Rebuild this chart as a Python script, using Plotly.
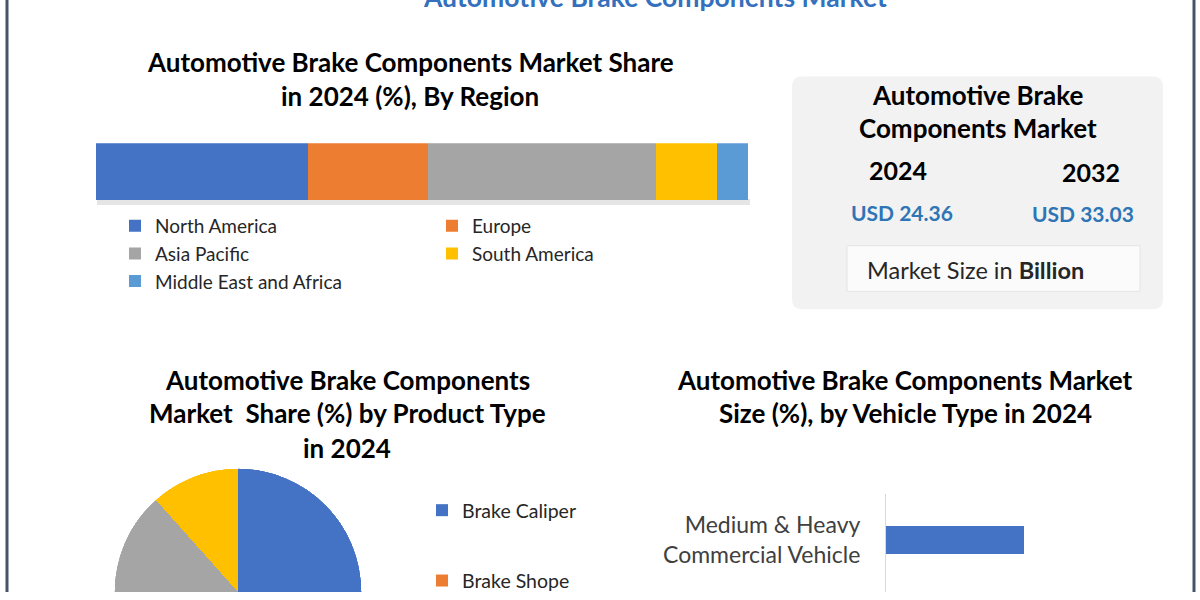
import plotly.graph_objects as go

# ---------------- data ----------------
regions = ["North America", "Europe", "Asia Pacific", "South America", "Middle East and Africa"]
region_share = [32.5, 18.4, 35.0, 9.4, 4.7]
region_colors = ["#4472C4", "#ED7D31", "#A5A5A5", "#FFC000", "#5B9BD5"]
region_legend = ["legend", "legend2", "legend", "legend2", "legend"]

products = ["Brake Caliper", "Brake Shope", "Brake Pad", "Brake Disc"]
product_share = [25.3, 32.1, 31.0, 11.6]
product_colors = ["#4472C4", "#ED7D31", "#A5A5A5", "#FFC000"]
product_in_view = [True, True, False, False]   # legend rows visible above the crop

vehicles = ["Medium & Heavy Commercial Vehicle", "Light Commercial Vehicle", "Passenger Car"]
vehicle_tick_labels = ["Medium &amp; Heavy<br>Commercial Vehicle", "Light Commercial<br>Vehicle", "Passenger Car"]
vehicle_share = [25.2, 28.3, 46.5]

market_years = ["2024", "2032"]
market_values = ["USD 24.36", "USD 33.03"]

# ---------------- layout helpers ----------------
W, H = 1200, 600
K = 1.008  # small vertical compensation
def px(x):
    return x / W
def py(y):
    return max(0.0, 1 - y * K / H)

FONT = "Lato"
fig = go.Figure()

# stacked region bar
for name, val, col, lg in zip(regions, region_share, region_colors, region_legend):
    fig.add_trace(go.Bar(
        x=[val], y=["share"], orientation="h", name=name,
        marker=dict(color=col, line=dict(width=0)), width=1,
        legend=lg, xaxis="x", yaxis="y", hoverinfo="name+x",
    ))

# pie (drawn as full-circle barpolar so the page crop can cut it)
start = 0.0
for i, (name, val, col, vis) in enumerate(zip(products, product_share, product_colors, product_in_view)):
    span = val / sum(product_share) * 360.0
    fig.add_trace(go.Barpolar(
        r=[1], theta=[start + span / 2], width=[span], name=name,
        marker=dict(color=col, line=dict(width=0)),
        legend="legend3", legendgroup=f"p{i}", showlegend=vis, subplot="polar",
    ))
    start += span

# vehicle bar
fig.add_trace(go.Bar(
    x=vehicle_share, y=vehicles, orientation="h",
    marker=dict(color="#4472C4", line=dict(width=0)), width=0.32,
    showlegend=False, xaxis="x2", yaxis="y2",
))

shapes = []
# outer border
shapes.append(dict(type="line", xref="paper", yref="paper", x0=px(7), x1=px(7), y0=0, y1=1,
                   line=dict(color="#44546A", width=3)))
shapes.append(dict(type="line", xref="paper", yref="paper", x0=px(1194), x1=px(1194), y0=0, y1=1,
                   line=dict(color="#44546A", width=3)))
# shadow under region bar
shapes.append(dict(type="rect", xref="paper", yref="paper", x0=px(97), x1=px(750), y0=py(206), y1=py(200),
                   fillcolor="rgba(0,0,0,0.10)", line=dict(width=0), layer="below"))
# card (rounded)
x0, x1, y0, y1, r = 792, 1163, 77, 311, 10
path = (f"M {px(x0+r)},{py(y0)} L {px(x1-r)},{py(y0)} Q {px(x1)},{py(y0)} {px(x1)},{py(y0+r)} "
        f"L {px(x1)},{py(y1-r)} Q {px(x1)},{py(y1)} {px(x1-r)},{py(y1)} "
        f"L {px(x0+r)},{py(y1)} Q {px(x0)},{py(y1)} {px(x0)},{py(y1-r)} "
        f"L {px(x0)},{py(y0+r)} Q {px(x0)},{py(y0)} {px(x0+r)},{py(y0)} Z")
shapes.append(dict(type="path", xref="paper", yref="paper", path=path,
                   fillcolor="#F2F2F2", line=dict(width=0), layer="below"))
shapes.append(dict(type="rect", xref="paper", yref="paper", x0=px(847), x1=px(1140), y0=py(293), y1=py(247),
                   fillcolor="#FBFBFB", line=dict(color="#E4E4E4", width=1), layer="below"))

ann = []
def text(x, y, s, size, color="#000000", bold=False, xanchor="center", yanchor="middle"):
    ann.append(dict(x=px(x), y=1 - y * K / H, xref="paper", yref="paper", text=(f"<b>{s}</b>" if bold else s),
                    showarrow=False, xanchor=xanchor, yanchor=yanchor,
                    font=dict(family=FONT, size=size, color=color)))

# main title (cut off at top)
text(655, -3, "Automotive Brake Components Market", 26.5, color="#3470BD", bold=True)
# region title
text(410, 62, "Automotive Brake Components Market Share", 26, bold=True)
text(410, 97, "in 2024 (%), By Region", 26, bold=True)
# card
text(978, 96, "Automotive Brake", 26, bold=True)
text(978, 129, "Components Market", 26, bold=True)
text(898, 171, market_years[0], 25, bold=True)
text(1091, 173, market_years[1], 25, bold=True)
text(902, 214, market_values[0], 21, color="#2E75B6", bold=True)
text(1083, 215, market_values[1], 21, color="#2E75B6", bold=True)
text(975, 271, "Market Size in <b>Billion</b>", 23.5, color="#262626")
# pie title
text(347, 382, "Automotive Brake Components", 26, bold=True)
text(347, 415, "Market&nbsp; Share (%) by Product Type", 26, bold=True)
text(347, 450, "in 2024", 26, bold=True)
# vehicle title
text(905, 382, "Automotive Brake Components Market", 26, bold=True)
text(905, 415, "Size (%), by Vehicle Type in 2024", 26, bold=True)

top_hbar = 497 * K
leg_font = dict(family=FONT, size=19, color="#262626")
fig.update_layout(
    width=W, height=H,
    margin=dict(l=0, r=0, t=0, b=0),
    paper_bgcolor="white", plot_bgcolor="rgba(0,0,0,0)",
    barmode="stack", bargap=0,
    xaxis=dict(domain=[px(96), px(748)], range=[0, 100], visible=False, fixedrange=True),
    yaxis=dict(domain=[py(201), py(144)], range=[-0.5, 0.5], visible=False, fixedrange=True),
    xaxis2=dict(domain=[px(886), px(1160)], range=[0, 50], visible=False, anchor="y2"),
    yaxis2=dict(domain=[0, py(497)], anchor="x2",
                range=[-0.517 + (H - top_hbar) / 90, -0.517],
                tickmode="array", tickvals=vehicles, ticktext=vehicle_tick_labels,
                showline=True, linecolor="#D9D9D9", linewidth=1, ticks="", showgrid=False,
                ticklabelstandoff=20,
                tickfont=dict(family=FONT, size=23, color="#404040")),
    polar=dict(domain=dict(x=[px(113), px(363)], y=[0, py(471)]),
               sector=[0, 180], hole=0, bgcolor="rgba(0,0,0,0)",
               angularaxis=dict(visible=False, direction="clockwise", rotation=90),
               radialaxis=dict(visible=False, range=[0, 1])),
    legend=dict(x=px(115), y=py(208), xanchor="left", yanchor="top", traceorder="normal",
                font=leg_font, bgcolor="rgba(0,0,0,0)", borderwidth=0, itemclick=False),
    legend2=dict(x=px(432), y=py(208), xanchor="left", yanchor="top", traceorder="normal",
                 font=leg_font, bgcolor="rgba(0,0,0,0)", borderwidth=0, itemclick=False),
    legend3=dict(x=px(422), y=py(494), xanchor="left", yanchor="top", traceorder="grouped",
                 tracegroupgap=42, font=dict(family=FONT, size=19.5, color="#262626"),
                 bgcolor="rgba(0,0,0,0)", borderwidth=0, itemclick=False),
    shapes=shapes, annotations=ann,
    font=dict(family=FONT),
)

fig.write_html("out.html")
